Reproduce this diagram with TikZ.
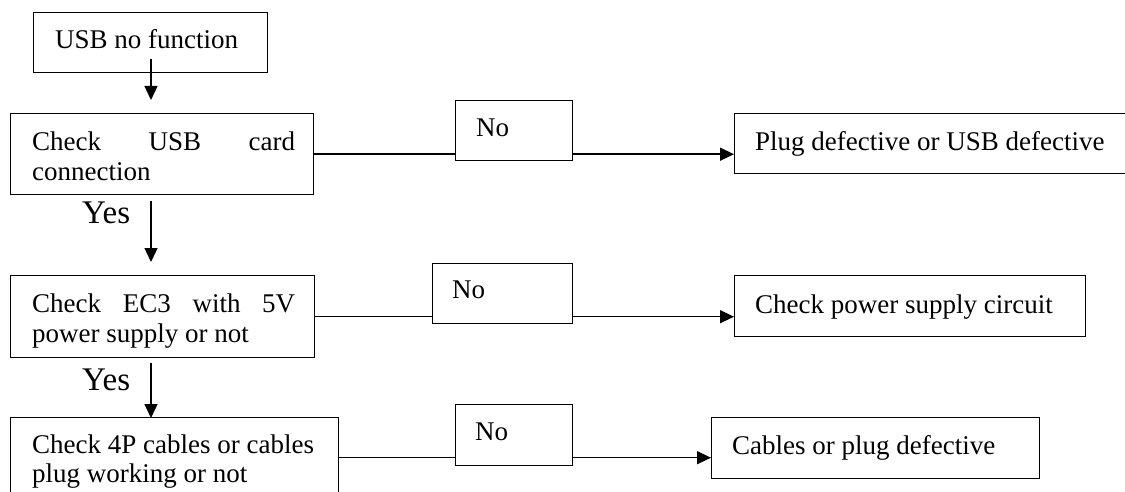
\documentclass[tikz,border=0pt]{standalone}
\usepackage{fontspec}
\setmainfont{Liberation Serif}
\usetikzlibrary{arrows.meta}
\tikzset{
  box/.style={draw, line width=1.4pt, rectangle, inner sep=0pt, anchor=north west},
  txt/.style={inner sep=0pt, anchor=base west, font=\fontsize{27pt}{30pt}\selectfont},
  yestxt/.style={inner sep=0pt, anchor=base west, font=\fontsize{33pt}{36pt}\selectfont},
  conn/.style={line width=1.4pt},
  arr/.style={line width=1.4pt, -{Triangle[length=14pt,width=13pt]}}
}
\begin{document}
\begin{tikzpicture}[x=1pt,y=-1pt]
\useasboundingbox (0,0) rectangle (1125,492);
\clip (0,0) rectangle (1125,492);
% left column boxes
\node[box, minimum width=234pt, minimum height=60pt] (b1) at (33,12) {};
\node[box, minimum width=303pt, minimum height=81pt] (b2) at (10,113) {};
\node[box, minimum width=304pt, minimum height=82pt] (b3) at (10,275) {};
\node[box, minimum width=328pt, minimum height=80pt] (b4) at (10,417) {};
% No boxes
\node[box, minimum width=117pt, minimum height=60pt] (n1) at (455,100) {};
\node[box, minimum width=140pt, minimum height=60pt] (n2) at (432,263) {};
\node[box, minimum width=117pt, minimum height=61pt] (n3) at (455,404) {};
% result boxes
\node[box, minimum width=400pt, minimum height=60pt] (r1) at (734,113) {};
\node[box, minimum width=351pt, minimum height=61pt] (r2) at (734,275) {};
\node[box, minimum width=328pt, minimum height=61pt] (r3) at (711,417) {};
% texts
\node[txt] (t1) at (55,49) {USB no function};
\node[txt] (t2a) at (32,150) {\makebox[263pt][s]{Check\hfill USB\hfill card}};
\node[txt] (t2b) at (32,180) {connection};
\node[txt] (t3a) at (32,312) {\makebox[263pt][s]{Check\hfill EC3\hfill with\hfill 5V}};
\node[txt] (t3b) at (32,342) {power supply or not};
\node[txt] (t4a) at (32,453) {Check 4P cables or cables};
\node[txt] (t4b) at (32,482) {plug working or not};
\node[txt] (tn1) at (476,137) {No};
\node[txt] (tn2) at (452,298) {No};
\node[txt] (tn3) at (475,440) {No};
\node[txt] (tr1) at (755,151) {Plug defective or USB defective};
\node[txt] (tr2) at (755,313) {Check power supply circuit};
\node[txt] (tr3) at (732,454) {Cables or plug defective};
\node[yestxt] (y1) at (82,223) {Yes};
\node[yestxt] (y2) at (82,390) {Yes};
% vertical arrows
\coordinate (a1s) at (151,59);
\coordinate (a1e) at (151,100);
\coordinate (a2s) at (151,201);
\coordinate (a2e) at (151,262);
\coordinate (a3s) at (151,363);
\coordinate (a3e) at (151,418);
\draw[arr] (a1s) -- (a1e);
\draw[arr] (a2s) -- (a2e);
\draw[arr] (a3s) -- (a3e);
% horizontal connectors
\draw[conn] (b2.east) -- (b2.east -| n1.west);
\draw[arr] (n1.east |- b2.east) -- (r1.west |- b2.east);
\draw[conn] (b3.east) -- (b3.east -| n2.west);
\draw[arr] (n2.east |- b3.east) -- (r2.west |- b3.east);
\draw[conn] (b4.east) -- (b4.east -| n3.west);
\draw[arr] (n3.east |- b4.east) -- (r3.west |- b4.east);
\end{tikzpicture}
\end{document}
